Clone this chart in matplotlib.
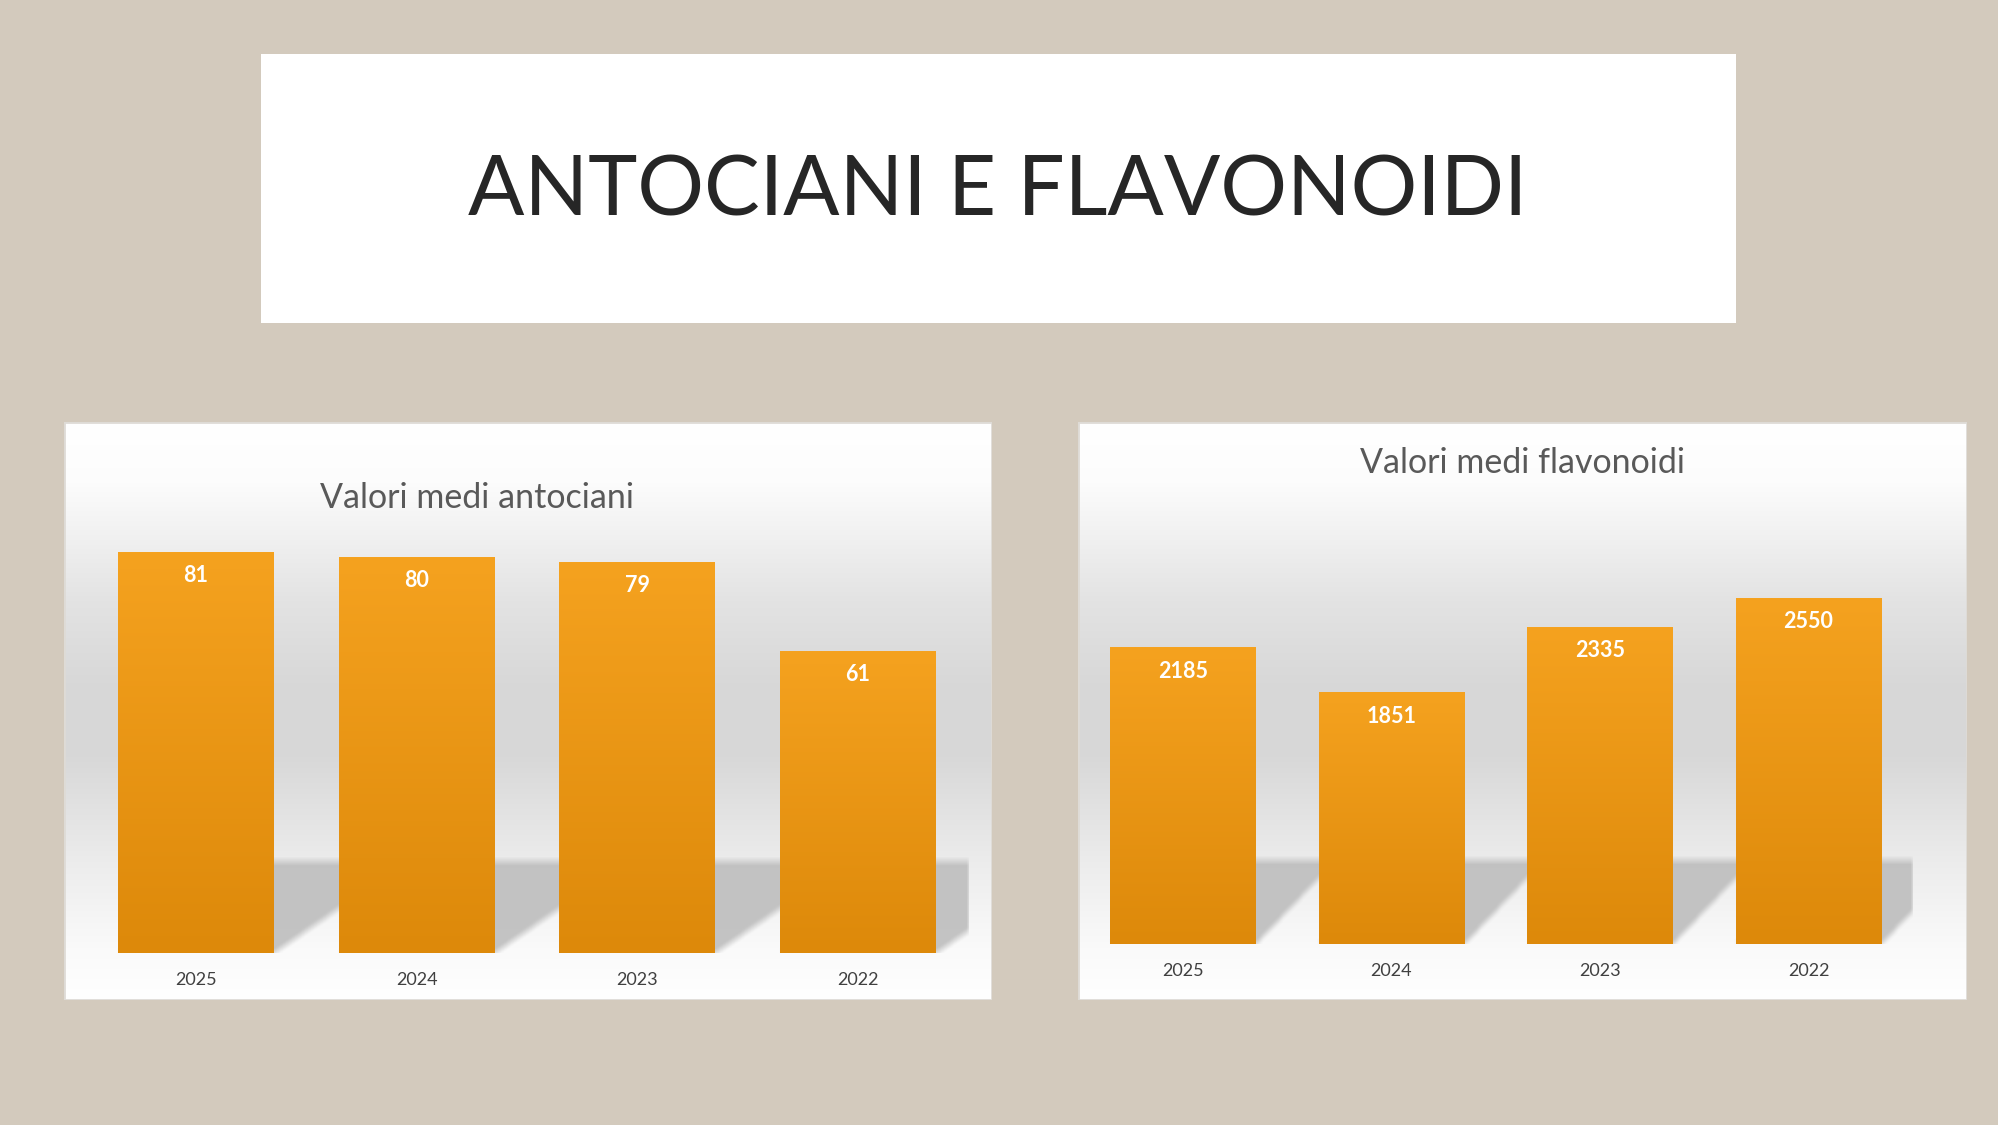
import numpy as np
import matplotlib
matplotlib.use('Agg')
import matplotlib.pyplot as plt
from matplotlib.patches import Rectangle
from matplotlib.colors import to_rgb

# ---------------- data ----------------
years = ['2025', '2024', '2023', '2022']
antociani = [81, 80, 79, 61]
flavonoidi = [2185, 1851, 2335, 2550]
main_title = 'ANTOCIANI E FLAVONOIDI'
title_left = 'Valori medi antociani'
title_right = 'Valori medi flavonoidi'

plt.rcParams['font.family'] = ['Lato', 'DejaVu Sans']

W, H = 1999, 1125
fig = plt.figure(figsize=(W / 100, H / 100), dpi=100, facecolor='#D3CABD')


def rect(x0, y0, x1, y1):
    return [x0 / W, 1 - y1 / H, (x1 - x0) / W, (y1 - y0) / H]


def fpos(x, y):
    return x / W, 1 - y / H


# ---------------- title box ----------------
tax = fig.add_axes(rect(261.5, 54, 1736, 323))
tax.set_axis_off()
tax.add_patch(Rectangle((0, 0), 1, 1, transform=tax.transAxes,
                        facecolor='white', edgecolor='none'))
fig.text(*fpos(998, 216), main_title, ha='center', va='baseline',
         fontsize=60, color='#262626')

# ---------------- panel backgrounds ----------------
stops_pos = [0.0, 0.10, 0.17, 0.31, 0.45, 0.58, 0.76, 0.91, 1.0]
stops_val = [1.0, 0.99, 0.957, 0.89, 0.847, 0.847, 0.925, 0.98, 1.0]
gy = np.linspace(0, 1, 400)
gv = np.interp(gy, stops_pos, stops_val)
grad_img = np.repeat(gv[:, None, None], 3, axis=2)


def panel(x0, y0, x1, y1):
    pax = fig.add_axes(rect(x0, y0, x1, y1))
    pax.set_axis_off()
    pax.imshow(grad_img, extent=[0, 1, 0, 1], aspect='auto',
               interpolation='bilinear')
    pax.add_patch(Rectangle((0, 0), 1, 1, transform=pax.transAxes,
                            facecolor='none', edgecolor='#DEDBD6', lw=2.0))
    pax.set_xlim(0, 1)
    pax.set_ylim(0, 1)


panel(64, 422, 992, 1000)
panel(1078, 422, 1967, 1000)

top_col = np.array(to_rgb('#F5A21F'))
bot_col = np.array(to_rgb('#DD890A'))


def blur1d(a, k, axis):
    kern = np.ones(k) / k
    return np.apply_along_axis(lambda m: np.convolve(m, kern, mode='same'), axis, a)


def chart(x0, y0, x1, y1, values, ymax, bar_w, shadow_px, slope):
    ax = fig.add_axes(rect(x0, y0, x1, y1))
    ax.patch.set_alpha(0)
    for s in ax.spines.values():
        s.set_visible(False)
    n = len(values)
    x = np.arange(n)
    wpx = x1 - x0
    hpx = y1 - y0
    px_per_x = wpx / n
    px_per_y = hpx / ymax

    # floor shadow
    pad = 12
    Ny = int(shadow_px) + pad
    Nx = int(wpx)
    pxs = np.arange(Nx) + 0.5
    pys = (np.arange(Ny)[::-1] + 0.5)
    mask = np.zeros((Ny, Nx))
    for i in range(n):
        xl = (x[i] - bar_w / 2 + 0.5) * px_per_x
        xr = (x[i] + bar_w / 2 + 0.5) * px_per_x
        sh = pxs[None, :] - pys[:, None] / slope
        mask = np.maximum(mask, ((sh >= xl) & (sh <= xr)).astype(float))
    mask[pys > shadow_px, :] = 0
    mask = blur1d(mask, 9, 0)
    mask = blur1d(mask, 5, 1)
    rgba = np.zeros((Ny, Nx, 4))
    rgba[..., :3] = 0.745
    rgba[..., 3] = mask * 0.9
    ax.imshow(rgba, extent=[-0.5, n - 0.5, 0, Ny / px_per_y], aspect='auto',
              interpolation='bilinear', zorder=1)

    bars = ax.bar(x, values, width=bar_w, color='#EB951A', zorder=3)
    t = np.linspace(0, 1, 256)[:, None]
    bg = top_col[None, :] * (1 - t) + bot_col[None, :] * t
    bg = bg[:, None, :]
    for b in bars:
        bx, by = b.get_xy()
        ax.imshow(bg, extent=[bx, bx + b.get_width(), 0, b.get_height()],
                  aspect='auto', interpolation='bilinear', zorder=4)
    for i, v in enumerate(values):
        ax.annotate(str(v), xy=(x[i], v), xytext=(0, -30), textcoords='offset pixels',
                    ha='center', va='baseline', color='white', fontsize=15.5,
                    fontweight='bold', zorder=6)
        ax.annotate(years[i], xy=(x[i], 0), xytext=(0, -32), textcoords='offset pixels',
                    ha='center', va='baseline', color='#404040', fontsize=13,
                    annotation_clip=False)
    ax.set_xticks([])
    ax.set_yticks([])
    ax.set_xlim(-0.5, n - 0.5)
    ax.set_ylim(0, ymax)
    return ax


chart(85.5, 508, 968.5, 953, antociani, 90, 0.706, 91, 0.68)
chart(1078.75, 537, 1912.75, 944, flavonoidi, 3000, 0.70, 84, 1.05)

fig.text(*fpos(477, 508), title_left, ha='center', va='baseline',
         fontsize=24.5, color='#595959')
fig.text(*fpos(1523, 473), title_right, ha='center', va='baseline',
         fontsize=24.5, color='#595959')

fig.savefig('out.png', dpi=100, facecolor=fig.get_facecolor())
